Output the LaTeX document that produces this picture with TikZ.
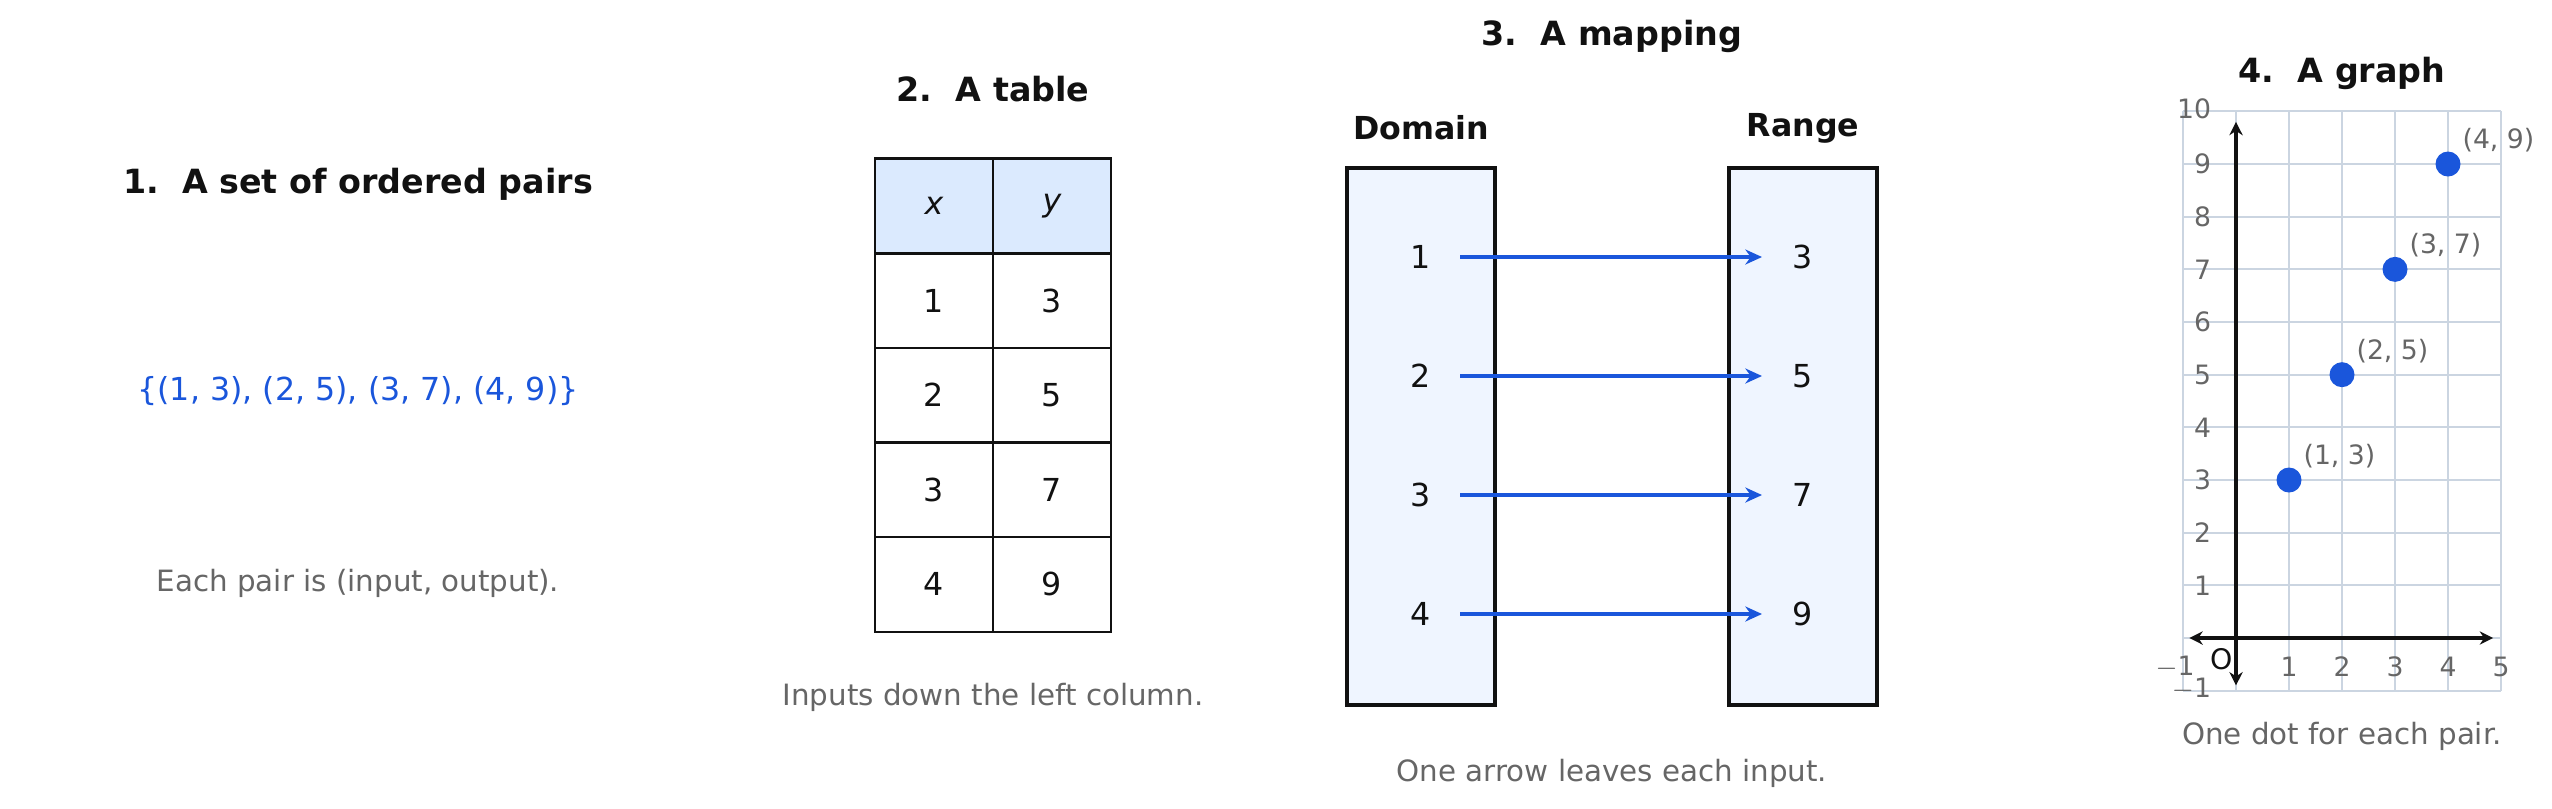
\documentclass[tikz,border=0pt]{standalone}
\usepackage{fontspec}
\setmainfont{DejaVu Sans}
\usetikzlibrary{arrows.meta}
\definecolor{blu}{HTML}{1A56DB}
\definecolor{gr}{HTML}{666666}
\definecolor{hdr}{HTML}{DBEAFE}
\definecolor{boxf}{HTML}{EFF5FF}
\definecolor{gridc}{HTML}{CBD5E1}
\definecolor{ink}{HTML}{111111}
\begin{document}
\begin{tikzpicture}[x=0.3pt,y=-0.3pt,
  title/.style={font=\fontsize{10}{12}\selectfont\bfseries,text=ink},
  body/.style={font=\fontsize{9.5}{11}\selectfont,text=ink},
  capt/.style={font=\fontsize{8.8}{10}\selectfont,text=gr},
  tick/.style={font=\fontsize{8}{9}\selectfont,text=gr},
  cell/.style={draw=ink,line width=0.7pt,minimum width=35.4pt,minimum height=28.5pt,inner sep=0pt,body},
  bx/.style={draw=ink,fill=boxf,line width=1.3pt},
  arr/.style={-{Stealth[length=5pt,width=4.5pt]},blu,line width=1.1pt},
  ax/.style={{Stealth[length=4pt,width=4pt]}-{Stealth[length=4pt,width=4pt]},ink,line width=1pt},
  dot/.style={circle,fill=blu,inner sep=0pt,minimum size=7.5pt}]
\useasboundingbox (0,0) rectangle (2552,808);
% 1
\node[title] (t1) at (358,184) {1.\ \ A set of ordered pairs};
\node[body,text=blu] (set) at (358,391) {\{(1, 3), (2, 5), (3, 7), (4, 9)\}};
\node[capt] (c1) at (358,583) {Each pair is (input, output).};
% 2
\node[title] (t2) at (993,89) {2.\ \ A table};
\node[cell,fill=hdr] (hx) at (934,206) {\itshape x};
\node[cell,fill=hdr] (hy) at (1052,206) {\itshape y};
\foreach \a/\b [count=\i] in {1/3,2/5,3/7,4/9}{
  \node[cell] (l\i) at (934,206+94.6*\i) {\a};
  \node[cell] (r\i) at (1052,206+94.6*\i) {\b};
}
\node[capt] (c2) at (993,697) {Inputs down the left column.};
% 3
\node[title] (t3) at (1612,36) {3.\ \ A mapping};
\node[font=\fontsize{9.5}{11}\selectfont\bfseries,text=ink] (dl) at (1421,128) {Domain};
\node[font=\fontsize{9.5}{11}\selectfont\bfseries,text=ink] (rl) at (1803,128) {Range};
\draw[bx] (1347,168) rectangle (1495,705);
\draw[bx] (1729,168) rectangle (1877,705);
\foreach \a/\b/\y in {1/3/257,2/5/376,3/7/495,4/9/614}{
  \node[body] (d\a) at (1421,\y) {\a};
  \node[body] (g\a) at (1803,\y) {\b};
  \coordinate (s\a) at (1460,\y);
  \coordinate (e\a) at (1762,\y);
  \draw[arr] (s\a) -- (e\a);
}
\node[capt] (c3) at (1612,773) {One arrow leaves each input.};
% 4
\node[title] (t4) at (2342,73) {4.\ \ A graph};
\begin{scope}[shift={(2236,638)},x=15.9pt,y=15.8pt]
  \draw[gridc,line width=0.6pt,step=1] (-1,-1) grid (5,10);
  \coordinate (xl) at (-0.88,0); \coordinate (xr) at (4.85,0);
  \coordinate (yb) at (0,-0.9); \coordinate (yt) at (0,9.8);
  \draw[ax] (xl) -- (xr);
  \draw[ax] (yb) -- (yt);
  \foreach \i in {1,...,5} \node[tick] at (\i,-0.55) {\i};
  \node[tick] at (-1.15,-0.55) {$-$1};
  \foreach \i in {1,...,9} \node[tick,anchor=east] at (-0.25,\i) {\i};
  \node[tick,anchor=east] at (-0.25,10.05) {10};
  \node[tick,anchor=east] at (-0.25,-0.97) {$-$1};
  \node[font=\fontsize{8.5}{9}\selectfont,text=ink,inner sep=0pt] (o) at (-0.28,-0.4) {O};
  \foreach \a/\b in {1/3,2/5,3/7,4/9}{
    \node[dot] (p\a) at (\a,\b) {};
    \node[tick,anchor=south west,inner sep=1pt] (lp\a) at (\a+0.2,\b+0.15) {(\a, \b)};
  }
\end{scope}
\node[capt] (c4) at (2342,736) {One dot for each pair.};
\end{tikzpicture}
\end{document}
